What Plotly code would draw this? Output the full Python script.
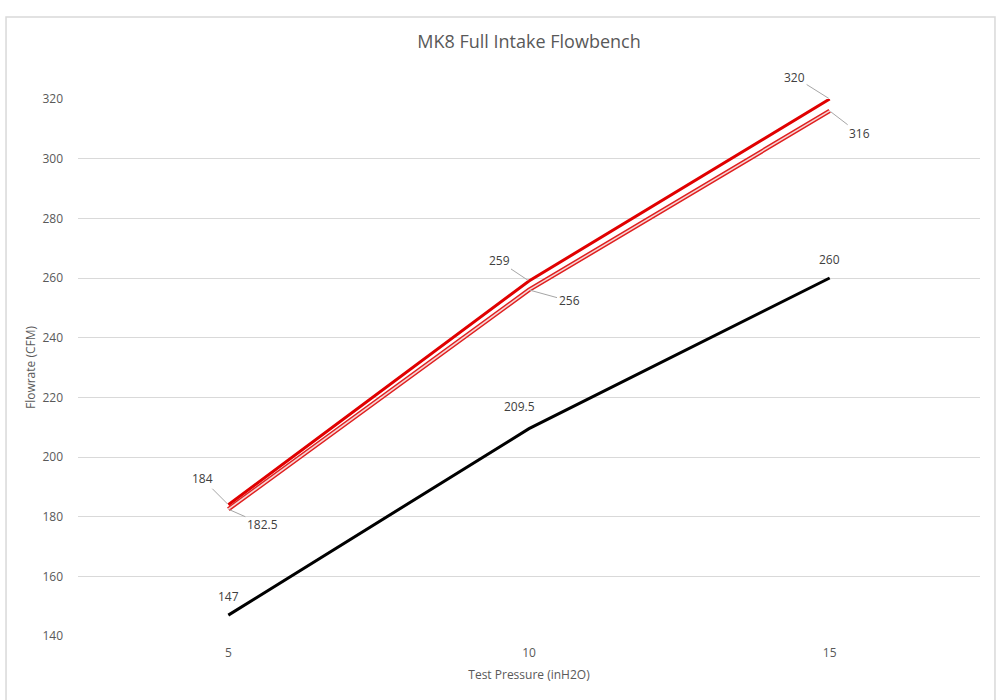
import plotly.graph_objects as go

# ---- data ----
pressures = ["5", "10", "15"]
series_black = [147, 209.5, 260]
series_red = [184, 259, 320]
series_red_outline = [182.5, 256, 316]
y_ticks = [140, 160, 180, 200, 220, 240, 260, 280, 300, 320]

FONT = "Open Sans"
GRAY = "#595959"
LABEL = "#404040"

# category positions on the x axis
xpos = list(range(len(pressures)))

fig = go.Figure()

# black series
fig.add_trace(go.Scatter(
    x=xpos, y=series_black, mode="lines",
    line=dict(color="#000000", width=3),
    showlegend=False, hoverinfo="skip",
))

# outlined red series (red line with light core)
fig.add_trace(go.Scatter(
    x=xpos, y=series_red_outline, mode="lines",
    line=dict(color="#e02020", width=4.5),
    showlegend=False, hoverinfo="skip",
))
fig.add_trace(go.Scatter(
    x=xpos, y=series_red_outline, mode="lines",
    line=dict(color="#f6d6d6", width=1.5),
    showlegend=False, hoverinfo="skip",
))

# solid red series
fig.add_trace(go.Scatter(
    x=xpos, y=series_red, mode="lines",
    line=dict(color="#e00000", width=3),
    showlegend=False, hoverinfo="skip",
))

label_font = dict(family=FONT, size=12, color=LABEL)

# black labels above points
black_shifts = [(0, 19), (-10, 22), (0, 19)]
for xv, yv, (xs, ys) in zip(xpos, series_black, black_shifts):
    fig.add_annotation(
        x=xv, y=yv, xref="x", yref="y", text=f"{yv:g}", showarrow=False,
        xshift=xs, yshift=ys, font=label_font,
    )

# red labels with leader lines
red_offsets = [(-26, -26), (-30, -20), (-35, -22)]
outline_offsets = [(34, 15), (40, 11), (30, 23)]
for xv, yv, (ax, ay) in zip(xpos, series_red, red_offsets):
    fig.add_annotation(
        x=xv, y=yv, xref="x", yref="y", ax=ax, ay=ay, text=f"{yv:g}",
        showarrow=True, arrowhead=0, arrowwidth=1, arrowcolor="#a6a6a6",
        standoff=1, font=label_font,
    )
for xv, yv, (ax, ay) in zip(xpos, series_red_outline, outline_offsets):
    fig.add_annotation(
        x=xv, y=yv, xref="x", yref="y", ax=ax, ay=ay, text=f"{yv:g}",
        showarrow=True, arrowhead=0, arrowwidth=1, arrowcolor="#a6a6a6",
        standoff=1, font=label_font,
    )

# chart frame
fig.add_shape(
    type="rect", xref="paper", yref="paper",
    x0=-0.0798, x1=1.0166, y0=-0.14, y1=1.1527,
    line=dict(color="#d9d9d9", width=1.5), layer="below",
)

fig.update_layout(
    width=1000, height=700,
    margin=dict(l=78, r=20, t=99, b=64),
    paper_bgcolor="#ffffff", plot_bgcolor="#ffffff",
    title=dict(
        text="MK8 Full Intake Flowbench",
        x=0.5, xanchor="center", y=0.94, yanchor="middle",
        xref="paper",
        font=dict(family=FONT, size=18, color=GRAY),
    ),
    font=dict(family=FONT, size=12, color=GRAY),
    xaxis=dict(
        range=[-0.5, 2.5], tickvals=xpos, ticktext=pressures,
        showgrid=False, zeroline=False, showline=False, ticks="",
        ticklabelstandoff=8,
        tickfont=dict(family=FONT, size=12, color=GRAY),
        title=dict(text="Test Pressure (inH2O)", standoff=10,
                   font=dict(family=FONT, size=12, color=GRAY)),
    ),
    yaxis=dict(
        range=[140, 320], tickvals=y_ticks,
        showgrid=True, gridcolor="#d9d9d9", gridwidth=1,
        zeroline=False, showline=False, ticks="",
        ticklabelstandoff=14,
        tickfont=dict(family=FONT, size=12, color=GRAY),
        title=dict(text="Flowrate (CFM)", standoff=4,
                   font=dict(family=FONT, size=12, color=GRAY)),
    ),
)

fig.write_html("out.html")
